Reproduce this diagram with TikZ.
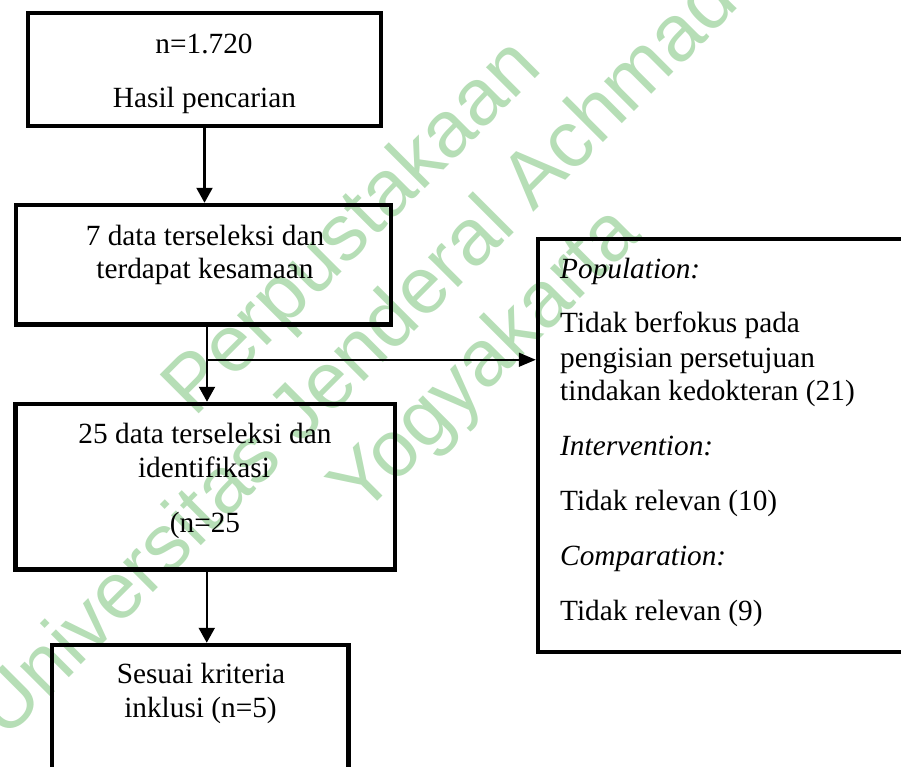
\documentclass[tikz,border=0pt]{standalone}
\usepackage{fontspec}
\setmainfont{Liberation Serif}
\newfontfamily\wmfont{Liberation Sans}
\usetikzlibrary{arrows.meta,calc}
\definecolor{wmgreen}{RGB}{182,222,182}
\begin{document}
\begin{tikzpicture}[x=1pt,y=-1pt,
  box/.style={draw,line width=4.5pt,inner sep=0pt},
  txt/.style={anchor=base,inner sep=0pt,font=\fontsize{29.3}{34}\selectfont},
  ltxt/.style={anchor=base west,inner sep=0pt,font=\fontsize{29.3}{34}\selectfont},
  arr/.style={line width=2.2pt,-{Triangle[width=16pt,length=15pt]}},
  thinarr/.style={line width=1.6pt,-{Triangle[width=14pt,length=17pt]}},
  wm/.style={rotate=45,text=wmgreen,align=center,inner sep=0pt,font=\wmfont\fontsize{80}{94}\selectfont}
]
\useasboundingbox (0,0) rectangle (901,766);
\clip (0,0) rectangle (901,766);
% watermark
\node[wm] (wmark) at (421,296) {Perpustakaan\\Universitas Jenderal Achmad Yani\\Yogyakarta};
% boxes
\node[box,minimum width=353pt,minimum height=113pt] (b1) at (204.5,69.5) {};
\node[box,minimum width=375pt,minimum height=119.5pt] (b2) at (203.5,264.75) {};
\node[box,minimum width=379.5pt,minimum height=165.5pt] (b3) at (205.25,486.75) {};
\node[box,minimum width=296.5pt,minimum height=155pt] (b5) at (200.25,722.5) {};
\node[box,minimum width=422pt,minimum height=413pt] (b4) at (749,445.5) {};
% texts
\node[txt] (t1a) at (204,53) {n=1.720};
\node[txt] (t1b) at (204.5,107) {Hasil pencarian};
\node[txt] (t2a) at (205,245) {7 data terseleksi dan};
\node[txt] (t2b) at (205,278) {terdapat kesamaan};
\node[txt] (t3a) at (205,443) {25 data terseleksi dan};
\node[txt] (t3b) at (204,477) {identifikasi};
\node[txt] (t3c) at (205,532) {(n=25};
\node[txt] (t5a) at (201,683) {Sesuai kriteria};
\node[txt] (t5b) at (200.5,717) {inklusi (n=5)};
\node[ltxt] (t4a) at (560,278) {\itshape Population:};
\node[ltxt] (t4b) at (560,332) {Tidak berfokus pada};
\node[ltxt] (t4c) at (560,367) {pengisian persetujuan};
\node[ltxt] (t4d) at (560,400) {tindakan kedokteran (21)};
\node[ltxt] (t4e) at (560,455) {\itshape Intervention:};
\node[ltxt] (t4f) at (560,510) {Tidak relevan (10)};
\node[ltxt] (t4g) at (560,565) {\itshape Comparation:};
\node[ltxt] (t4h) at (560,620) {Tidak relevan (9)};
% connectors
\draw[arr] (b1.south) -- (b1.south |- b2.north);
\coordinate (s2) at ([xshift=3.5pt]b2.south);
\draw[arr] (s2) -- (s2 |- b3.north);
\coordinate (j) at ($(s2)+(0,33)$);
\draw[thinarr] (j) -- (j -| b4.west);
\coordinate (s3) at ([xshift=1.5pt]b3.south);
\draw[arr] (s3) -- (s3 |- b5.north);
\end{tikzpicture}
\end{document}
